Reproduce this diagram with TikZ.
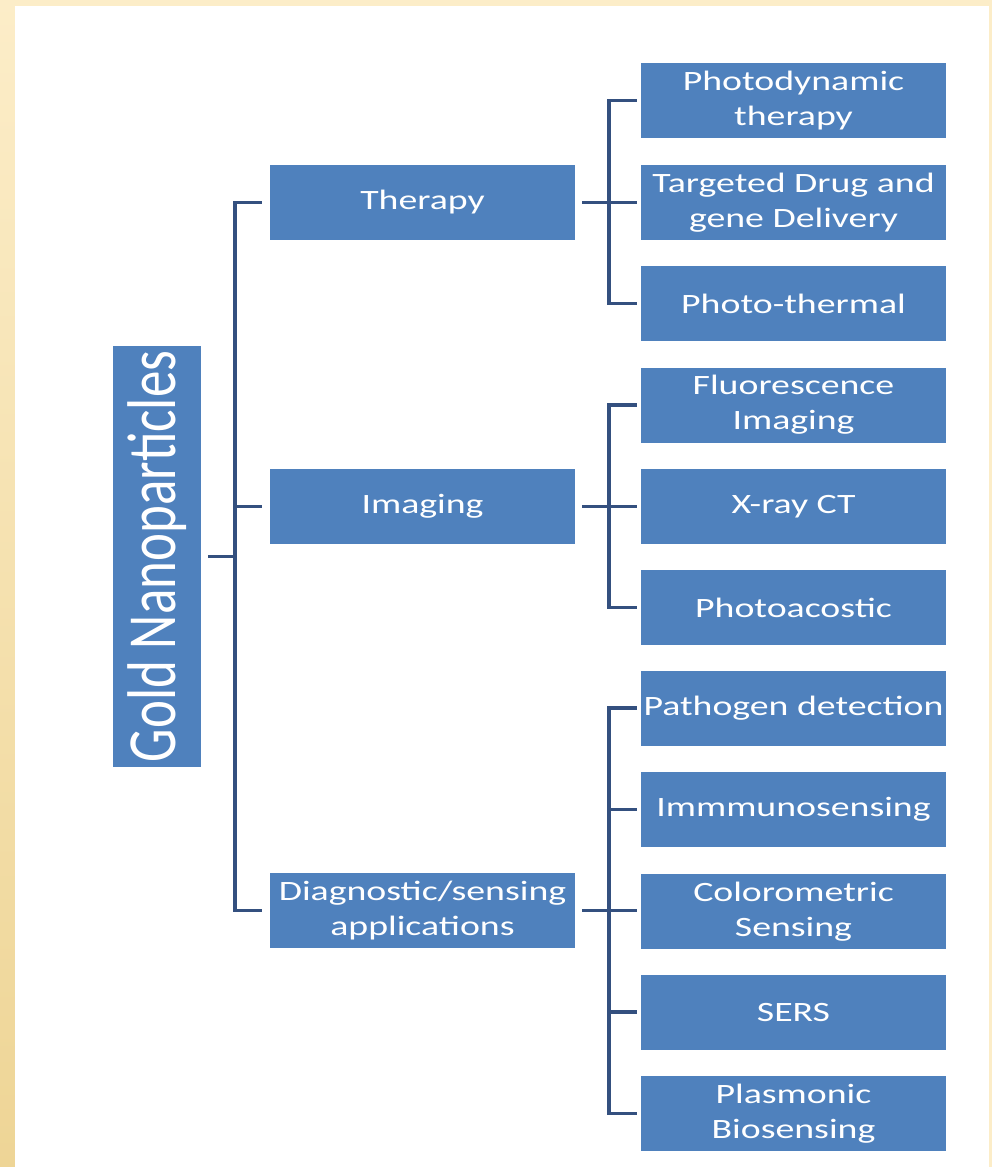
\documentclass[tikz,border=0pt]{standalone}
\usepackage{fontspec}
\setmainfont[FakeStretch=1.35]{Carlito}
\newfontfamily\rootfont{Carlito}
\usetikzlibrary{positioning, calc}

\definecolor{boxblue}{HTML}{4F81BD}
\definecolor{linkblue}{HTML}{34507F}
\definecolor{cream}{HTML}{FCEDC8}
\definecolor{gold}{HTML}{EED596}

\tikzset{
  box/.style={fill=boxblue, text=white, inner sep=0pt, align=center,
    minimum width=305pt, minimum height=75pt, font=\fontsize{28}{35}\selectfont},
  link/.style={draw=linkblue, line width=3.6pt},
}

\begin{document}
\begin{tikzpicture}[x=1pt, y=-1pt]
% page frame
\fill[cream] (0,0) rectangle (992,1167);
\shade[top color=cream, bottom color=gold] (0,0) rectangle (15,1167);
\fill[white] (15,6) rectangle (989,1167);
\useasboundingbox (0,0) rectangle (992,1167);

% root
\node[fill=boxblue, text=white, inner sep=0pt, minimum width=88pt, minimum height=421pt] (gold) at (157,556.5)
  {\rotatebox{90}{\scalebox{1}[1.3]{\rootfont\fontsize{53}{60}\selectfont Gold Nanoparticles}}};

% branches
\node[box] (ther) at (422.5,202.5) {Therapy};
\node[box] (img) at (422.5,506.5) {Imaging};
\node[box] (diag) at (422.5,910.5) {Diagnostic/sensing\\applications};

% leaves
\node[box] (pdt) at (793.5,100.5) {Photodynamic\\therapy};
\node[box] (tdd) at (793.5,202.5) {Targeted Drug and\\gene Delivery};
\node[box] (pth) at (793.5,303.5) {Photo-thermal};
\node[box] (flu) at (793.5,405) {Fluorescence\\Imaging};
\node[box] (xct) at (793.5,506.5) {X-ray CT};
\node[box] (pac) at (793.5,607.5) {Photoacostic};
\node[box] (pat) at (793.5,708) {Pathogen detection};
\node[box] (imm) at (793.5,809.5) {Immmunosensing};
\node[box] (col) at (793.5,911.5) {Colorometric\\Sensing};
\node[box] (sers) at (793.5,1012) {SERS};
\node[box] (plb) at (793.5,1113.5) {Plasmonic\\Biosensing};

% trunk
\coordinate (trunk) at (235,556.5);
\draw[link, shorten <=8pt, shorten >=8pt] (ther.west) -| (trunk) |- (diag.west);
\draw[link, shorten >=8pt] (trunk |- img.west) -- (img.west);
\draw[link, shorten <=7pt] (gold.east) -- (trunk);

% brackets
\coordinate (tb) at (609,202.5);
\coordinate (ib) at (609,506.5);
\coordinate (db) at (609,910.5);

\draw[link, shorten <=4pt, shorten >=4pt] (pdt.west) -| (tb) |- (pth.west);
\draw[link, shorten <=7pt, shorten >=4pt] (ther.east) -- (tdd.west);

\draw[link, shorten <=4pt, shorten >=4pt] (flu.west) -| (ib) |- (pac.west);
\draw[link, shorten <=7pt, shorten >=4pt] (img.east) -- (xct.west);

\draw[link, shorten <=4pt, shorten >=4pt] (pat.west) -| (db) |- (plb.west);
\draw[link, shorten <=7pt, shorten >=4pt] (diag.east) -- (diag.east -| col.west);
\draw[link, shorten >=4pt] (db |- imm.west) -- (imm.west);
\draw[link, shorten >=4pt] (db |- sers.west) -- (sers.west);
\end{tikzpicture}
\end{document}
